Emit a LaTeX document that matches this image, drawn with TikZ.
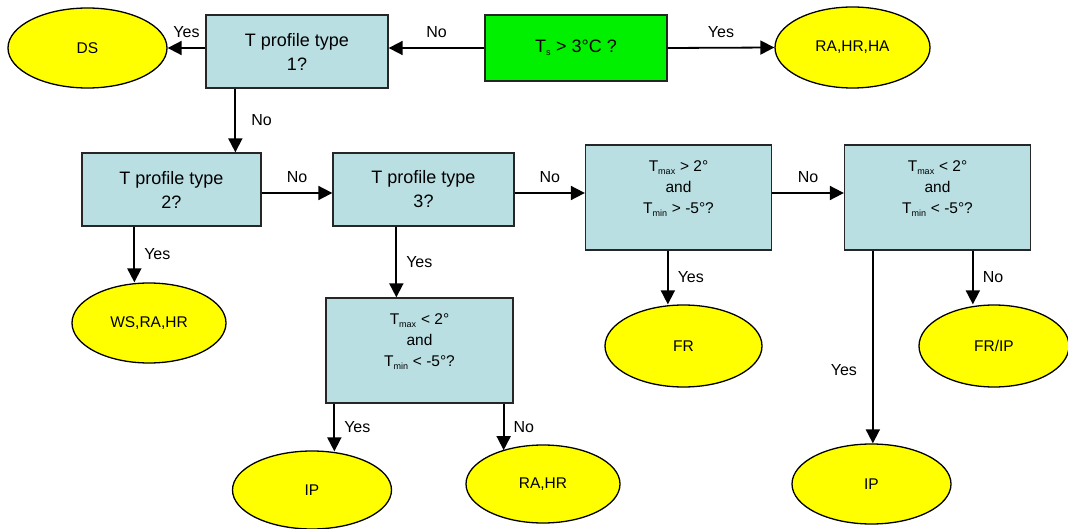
\documentclass[tikz,border=0pt]{standalone}
\usepackage{fontspec}
\setmainfont{Liberation Sans}
\usetikzlibrary{arrows.meta,shapes.geometric}
\definecolor{pale}{HTML}{B9DFE3}
\definecolor{lime}{HTML}{00F000}
\definecolor{lemon}{HTML}{FFFF00}
\newcommand{\tsub}[1]{\textsubscript{\fontsize{9}{9}\selectfont #1}}

\begin{document}
\begin{tikzpicture}[x=1pt,y=1pt,
  query/.style={draw=black!85,line width=1.3pt,fill=pale,minimum width=181pt,minimum height=73pt,inner sep=0pt,align=center,font=\fontsize{18}{24}\selectfont},
  cond/.style={query,minimum width=186pt,minimum height=105pt,text depth=20pt,font=\fontsize{15.5}{21}\selectfont},
  outcome/.style={ellipse,draw,line width=1.3pt,fill=lemon,minimum width=157pt,minimum height=80pt,inner sep=0pt,font=\fontsize{15.5}{18}\selectfont},
  flow/.style={line width=1.8pt,-{Triangle[length=14pt,width=14pt]}},
  lbl/.style={font=\fontsize{16}{18}\selectfont,inner sep=1pt}]
  \useasboundingbox (0,0) rectangle (1068,-529);

  \node[query,fill=lime,minimum width=182pt,minimum height=66pt] (ts) at (576,-48) {T\tsub{s} > 3°C ?};
  \node[query,minimum width=182pt] (t1) at (297,-51.5) {T profile type\\1?};
  \node[query,minimum width=179pt] (t2) at (171.5,-189.5) {T profile type\\2?};
  \node[query] (t3) at (423.5,-189.5) {T profile type\\3?};
  \node[cond] (t4) at (678.5,-197.5) {T\tsub{max} > 2°\\and\\T\tsub{min} > -5°?};
  \node[cond] (t5) at (937.5,-197.5) {T\tsub{max} < 2°\\and\\T\tsub{min} < -5°?};
  \node[cond,minimum width=187pt] (low) at (419.5,-350.5) {T\tsub{max} < 2°\\and\\T\tsub{min} < -5°?};

  \node[outcome,minimum width=159pt] (ds) at (87.5,-48) {DS};
  \node[outcome,minimum width=155pt,minimum height=81pt] (rhh) at (852.5,-47.5) {RA,HR,HA};
  \node[outcome,minimum width=154pt] (ws) at (149,-323) {WS,RA,HR};
  \node[outcome,minimum height=82pt] (fr) at (683.5,-346) {FR};
  \node[outcome,minimum width=150pt,minimum height=82pt] (frip) at (994,-346) {FR/IP};
  \node[outcome,minimum width=159pt,minimum height=78pt] (ipl) at (312,-490) {IP};
  \node[outcome,minimum width=154pt,minimum height=78pt] (rahr) at (543,-484) {RA,HR};
  \node[outcome,minimum width=159pt] (ipr) at (871.5,-484) {IP};

  \coordinate (row) at ([yshift=-3.5pt]t2.east);
  \coordinate (t1no) at ([xshift=30pt]t1.south west);
  \coordinate (t2yes) at ([xshift=53pt]t2.south west);
  \coordinate (t3yes) at ([xshift=64pt]t3.south west);
  \coordinate (t4yes) at ([xshift=83pt]t4.south west);
  \coordinate (t5yes) at ([xshift=29pt]t5.south west);
  \coordinate (t5no) at ([xshift=129pt]t5.south west);
  \coordinate (lowyes) at ([xshift=9pt]low.south west);
  \coordinate (lowno) at ([xshift=-10pt]low.south east);

  \draw[flow] (ts.east) -- (rhh.west) node[lbl,midway,above=8pt] {Yes};
  \draw[flow] (ts.west) -- (ts.west -| t1.east) node[lbl,midway,above=8pt] {No};
  \draw[flow] (ts.west -| t1.west) -- (ds.east) node[lbl,midway,above=8pt] {Yes};
  \draw[flow] (t1no) -- (t1no |- t2.north) node[lbl,midway,right=14pt] {No};
  \draw[flow] (row) -- (row -| t3.west) node[lbl,midway,above=8pt] {No};
  \draw[flow] (row -| t3.east) -- (row -| t4.west) node[lbl,midway,above=8pt] {No};
  \draw[flow] (row -| t4.east) -- (row -| t5.west) node[lbl,midway,above=8pt] {No};
  \draw[flow] (t2yes) -- (t2yes |- ws.north) node[lbl,midway,right=8pt] {Yes};
  \draw[flow] (t3yes) -- (t3yes |- low.north) node[lbl,midway,right=8pt] {Yes};
  \draw[flow] (t4yes) -- (t4yes |- fr.north) node[lbl,midway,right=8pt] {Yes};
  \draw[flow] (t5no) -- (t5no |- frip.north) node[lbl,midway,right=8pt] {No};
  \draw[flow] (t5yes) -- (t5yes |- ipr.north) node[lbl,pos=0.62,left=14pt] {Yes};
  \draw[flow] (lowyes) -- (lowyes |- ipl.115) node[lbl,midway,right=8pt] {Yes};
  \draw[flow] (lowno) -- (lowno |- rahr.140) node[lbl,midway,right=8pt] {No};
\end{tikzpicture}
\end{document}
